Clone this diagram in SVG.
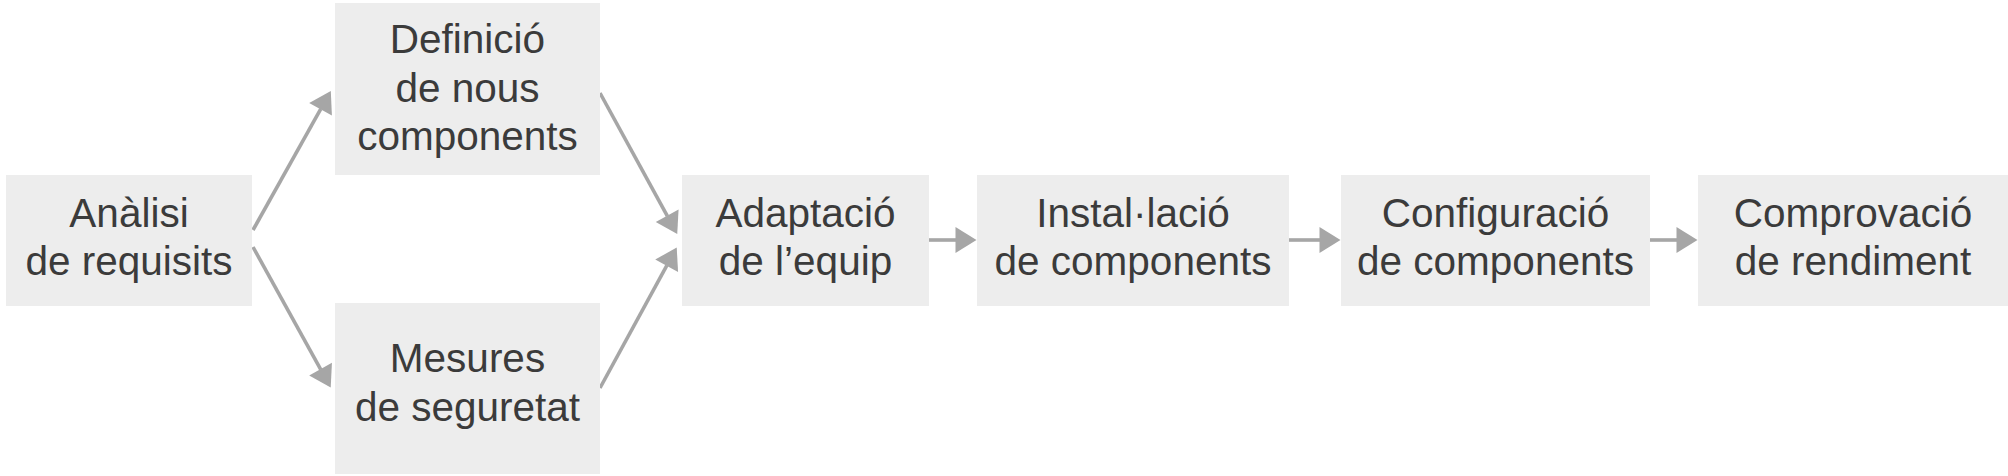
<svg xmlns="http://www.w3.org/2000/svg" width="2008" height="476" viewBox="0 0 2008 476">
  <style>
    .box { fill: #ededed; }
    .lbl { font-family: "Liberation Sans", Arial, sans-serif; font-size: 40.5px; fill: #3b3b3b; text-anchor: middle; }
    .edge { stroke: #a6a6a6; stroke-width: 3.6; fill: none; marker-end: url(#ah); }
  </style>
  <defs>
    <marker id="ah" markerUnits="userSpaceOnUse" markerWidth="21" markerHeight="26" refX="0.5" refY="13" orient="auto" overflow="visible">
      <path d="M0,0 L21,13 L0,26 z" fill="#a6a6a6"/>
    </marker>
  </defs>
  <rect width="2008" height="476" fill="#ffffff"/>

  <g id="connectors">
    <line class="edge" x1="253" y1="230" x2="320.8" y2="108.8"/>
    <line class="edge" x1="253" y1="247" x2="320.8" y2="369.6"/>
    <line class="edge" x1="600" y1="93" x2="667.4" y2="216.1"/>
    <line class="edge" x1="600" y1="388" x2="666.9" y2="265.4"/>
    <line class="edge" x1="929" y1="240" x2="956" y2="240"/>
    <line class="edge" x1="1289" y1="240" x2="1320" y2="240"/>
    <line class="edge" x1="1650" y1="240" x2="1677" y2="240"/>
  </g>

  <g id="analisi">
    <rect class="box" x="6" y="175" width="246" height="131"/>
    <text class="lbl" x="129" y="227">Anàlisi</text>
    <text class="lbl" x="129" y="275">de requisits</text>
  </g>
  <g id="definicio">
    <rect class="box" x="335" y="3" width="265" height="172"/>
    <text class="lbl" x="467.5" y="53">Definició</text>
    <text class="lbl" x="467.5" y="101.5">de nous</text>
    <text class="lbl" x="467.5" y="150">components</text>
  </g>
  <g id="mesures">
    <rect class="box" x="335" y="303" width="265" height="171"/>
    <text class="lbl" x="467.5" y="372">Mesures</text>
    <text class="lbl" x="467.5" y="421">de seguretat</text>
  </g>
  <g id="adaptacio">
    <rect class="box" x="682" y="175" width="247" height="131"/>
    <text class="lbl" x="805.5" y="227">Adaptació</text>
    <text class="lbl" x="805.5" y="275">de l’equip</text>
  </g>
  <g id="installacio">
    <rect class="box" x="977" y="175" width="312" height="131"/>
    <text class="lbl" x="1133" y="227">Instal·lació</text>
    <text class="lbl" x="1133" y="275">de components</text>
  </g>
  <g id="configuracio">
    <rect class="box" x="1341" y="175" width="309" height="131"/>
    <text class="lbl" x="1495.5" y="227">Configuració</text>
    <text class="lbl" x="1495.5" y="275">de components</text>
  </g>
  <g id="comprovacio">
    <rect class="box" x="1698" y="175" width="310" height="131"/>
    <text class="lbl" x="1853" y="227">Comprovació</text>
    <text class="lbl" x="1853" y="275">de rendiment</text>
  </g>
</svg>
